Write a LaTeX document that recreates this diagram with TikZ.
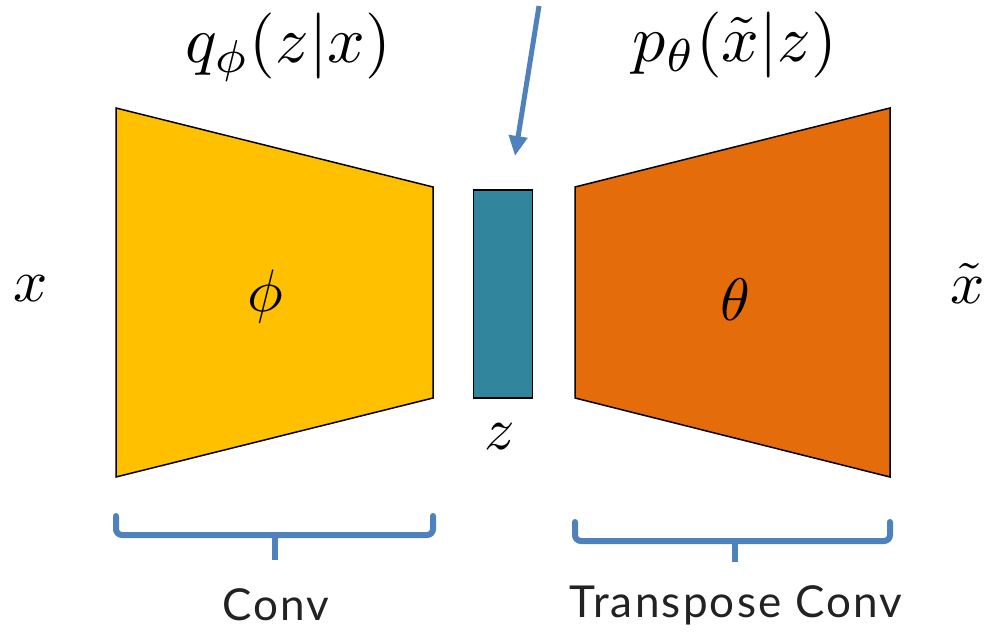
\documentclass[tikz,border=0pt]{standalone}
\usepackage{fontspec}
\newfontfamily\lblfont{Lato}[LetterSpace=5]
\usetikzlibrary{arrows.meta}
\definecolor{encY}{HTML}{FFC000}
\definecolor{latT}{HTML}{31859C}
\definecolor{decO}{HTML}{E46C0A}
\definecolor{arrB}{HTML}{4F81BD}
\definecolor{txtG}{HTML}{222222}
\tikzset{
  block/.style={draw=black, line width=1.5pt, line join=miter},
  bracepath/.style={draw=arrB, line width=6pt, rounded corners=6pt, line cap=round},
  mathlbl/.style={inner sep=0pt, scale=6},
  toplbl/.style={inner sep=0pt, scale=6.6},
  wordlbl/.style={inner sep=0pt, text=txtG, font=\lblfont\fontsize{44}{52}\selectfont},
  pointer/.style={draw=arrB, line width=5pt, -{Triangle[length=20pt,width=18pt]}}
}
\begin{document}
\begin{tikzpicture}[x=1pt,y=-1pt]
\useasboundingbox (0,0) rectangle (991,634);
% encoder
\draw[block, fill=encY] (116,108) -- (433,187) -- (433,398) -- (116,477) -- cycle;
% decoder
\draw[block, fill=decO] (575,187) -- (890,108) -- (890,477) -- (575,398) -- cycle;
% latent
\node[block, fill=latT, minimum width=59pt, minimum height=208pt, inner sep=0pt] (lat) at (503,294) {};
% pointer arrow
\coordinate (pstart) at (539,6);
\coordinate (pend) at (515,156);
\draw[pointer] (pstart) -- (pend);
% braces
\draw[bracepath] (116,516) -- (116,535) -- (433,535) -- (433,516);
\draw[draw=arrB, line width=6pt] (275,535) -- (275,560);
\draw[bracepath] (575,522) -- (575,541) -- (890,541) -- (890,522);
\draw[draw=arrB, line width=6pt] (735,541) -- (735,562);
% labels
\node[toplbl] (qlbl) at (288,47) {$q_\phi(z|x)$};
\node[toplbl] (plbl) at (735,45) {$p_\theta(\tilde{x}|z)$};
\node[mathlbl] (xin) at (31,289) {$x$};
\node[mathlbl] (xout) at (968,283) {$\tilde{x}$};
\node[mathlbl] (phi) at (265,296) {$\phi$};
\node[mathlbl] (theta) at (735,300) {$\theta$};
\node[mathlbl] (zl) at (500,437) {$z$};
\node[wordlbl] (conv) at (276,605) {Conv};
\node[wordlbl] (tconv) at (736,605) {Transpose Conv};
\end{tikzpicture}
\end{document}
